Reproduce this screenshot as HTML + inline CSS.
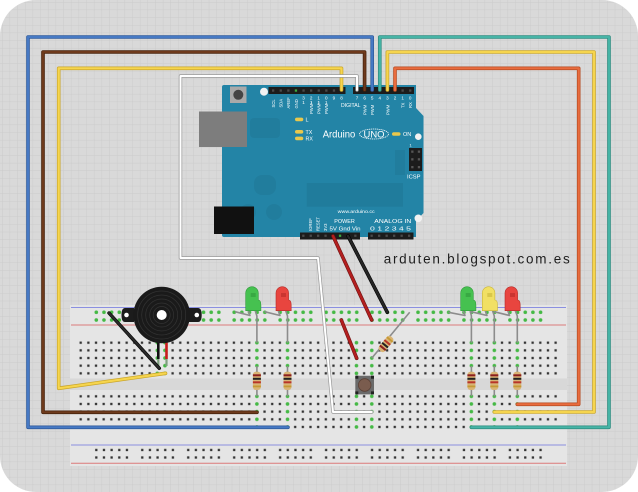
<!DOCTYPE html>
<html><head><meta charset="utf-8"><style>
html,body{margin:0;padding:0;background:#fff;}
svg{display:block;}
text{font-family:"Liberation Sans",sans-serif;}
</style></head><body>
<svg width="638" height="492" viewBox="0 0 638 492" xmlns="http://www.w3.org/2000/svg">
<defs>
<pattern id="grid" width="7.66" height="7.66" patternUnits="userSpaceOnUse" x="2" y="2">
 <rect width="7.66" height="7.66" fill="#d9d9d9"/>
 <path d="M0 0H7.66M0 0V7.66" stroke="#c8c8c8" stroke-width="0.7" fill="none"/>
</pattern>
<pattern id="hole" width="7.66" height="7.66" patternUnits="userSpaceOnUse" x="76.87" y="338.87">
 <rect x="2.68" y="2.68" width="2.3" height="2.3" fill="#333"/>
</pattern>
<pattern id="ghole" width="7.66" height="7.66" patternUnits="userSpaceOnUse" x="76.87" y="338.87">
 <rect width="7.66" height="7.66" fill="#e5e5e5"/>
 <circle cx="3.83" cy="3.83" r="1.8" fill="#45b945"/>
</pattern>
<pattern id="railG" width="45.96" height="20" patternUnits="userSpaceOnUse" x="92.47" y="308.45">
 <circle cx="3.83" cy="3.85" r="1.8" fill="#45b945"/><circle cx="11.49" cy="3.85" r="1.8" fill="#45b945"/><circle cx="19.15" cy="3.85" r="1.8" fill="#45b945"/><circle cx="26.81" cy="3.85" r="1.8" fill="#45b945"/><circle cx="34.47" cy="3.85" r="1.8" fill="#45b945"/>
 <circle cx="3.83" cy="11.55" r="1.8" fill="#45b945"/><circle cx="11.49" cy="11.55" r="1.8" fill="#45b945"/><circle cx="19.15" cy="11.55" r="1.8" fill="#45b945"/><circle cx="26.81" cy="11.55" r="1.8" fill="#45b945"/><circle cx="34.47" cy="11.55" r="1.8" fill="#45b945"/>
</pattern>
<pattern id="railB" width="45.96" height="20" patternUnits="userSpaceOnUse" x="92.47" y="446.15">
 <rect x="2.68" y="2.7" width="2.3" height="2.3" fill="#333"/><rect x="10.34" y="2.7" width="2.3" height="2.3" fill="#333"/><rect x="18" y="2.7" width="2.3" height="2.3" fill="#333"/><rect x="25.66" y="2.7" width="2.3" height="2.3" fill="#333"/><rect x="33.32" y="2.7" width="2.3" height="2.3" fill="#333"/>
 <rect x="2.68" y="10.2" width="2.3" height="2.3" fill="#333"/><rect x="10.34" y="10.2" width="2.3" height="2.3" fill="#333"/><rect x="18" y="10.2" width="2.3" height="2.3" fill="#333"/><rect x="25.66" y="10.2" width="2.3" height="2.3" fill="#333"/><rect x="33.32" y="10.2" width="2.3" height="2.3" fill="#333"/>
</pattern>
</defs>

<!-- background -->
<rect x="0" y="0" width="638" height="492" fill="#fff"/>
<rect x="0" y="0" width="638" height="492" rx="36" ry="36" fill="url(#grid)"/>

<!-- ARDUINO -->
<path d="M224,85 H416 V108 L423.5,116 V213 L416,221 V237 H224 Q222,237 222,235 V87 Q222,85 224,85Z" fill="#2384a6"/>
<rect x="306.7" y="183" width="96.3" height="23.7" fill="#000" opacity="0.06"/>
<rect x="250" y="118" width="30" height="20" rx="4" fill="#000" opacity="0.05"/>
<rect x="254" y="175" width="22" height="20" rx="8" fill="#000" opacity="0.05"/>
<circle cx="248" cy="212" r="8" fill="#000" opacity="0.05"/>
<circle cx="274" cy="212" r="8" fill="#000" opacity="0.05"/>
<rect x="395" y="150" width="10" height="25" fill="#000" opacity="0.05"/>
<rect x="199" y="111.5" width="48" height="35.5" fill="#7d7d7d"/>
<rect x="214" y="206.5" width="40" height="27.5" fill="#111"/>
<rect x="230" y="86.5" width="16.5" height="16.5" fill="#a9a9a9"/>
<circle cx="238.3" cy="94.8" r="5" fill="#444"/>
<circle cx="264" cy="91.7" r="4" fill="#f2f2f2"/>
<circle cx="418.3" cy="136.7" r="3.3" fill="#f2f2f2"/>
<circle cx="418.3" cy="218.3" r="3.8" fill="#f2f2f2"/>

<!-- top headers -->
<rect x="268.5" y="87" width="77" height="7" fill="#1c1c1c"/>
<rect x="353" y="87" width="61" height="7" fill="#1c1c1c"/>
<g fill="#4a4a4a">
<rect x="272" y="89.4" width="2.3" height="2.3"/><rect x="279.6" y="89.4" width="2.3" height="2.3"/><rect x="287.2" y="89.4" width="2.3" height="2.3"/><rect x="302.4" y="89.4" width="2.3" height="2.3"/><rect x="310" y="89.4" width="2.3" height="2.3"/><rect x="317.6" y="89.4" width="2.3" height="2.3"/><rect x="325.2" y="89.4" width="2.3" height="2.3"/><rect x="332.8" y="89.4" width="2.3" height="2.3"/>
<rect x="401.5" y="89.4" width="2.3" height="2.3"/><rect x="409.1" y="89.4" width="2.3" height="2.3"/>
</g>
<rect x="294.8" y="89.4" width="2.3" height="2.3" fill="#3da83d"/>
<!-- bottom headers -->
<rect x="300" y="232.5" width="60" height="7" fill="#1c1c1c"/>
<rect x="368" y="232.5" width="45.5" height="7" fill="#1c1c1c"/>
<g fill="#4a4a4a">
<rect x="302.2" y="234.6" width="2.3" height="2.3"/><rect x="309.6" y="234.6" width="2.3" height="2.3"/><rect x="317" y="234.6" width="2.3" height="2.3"/><rect x="324.4" y="234.6" width="2.3" height="2.3"/><rect x="354.2" y="234.6" width="2.3" height="2.3"/>
<rect x="370.5" y="234.6" width="2.3" height="2.3"/><rect x="378" y="234.6" width="2.3" height="2.3"/><rect x="385.5" y="234.6" width="2.3" height="2.3"/><rect x="393" y="234.6" width="2.3" height="2.3"/><rect x="400.5" y="234.6" width="2.3" height="2.3"/><rect x="408" y="234.6" width="2.3" height="2.3"/>
</g>
<rect x="338.9" y="234.6" width="2.3" height="2.3" fill="#3da83d"/>
<!-- ICSP -->
<rect x="409" y="148" width="13" height="23" fill="#1c1c1c"/>
<g fill="#555"><rect x="411.2" y="150.5" width="2.3" height="2.3"/><rect x="417.8" y="150.5" width="2.3" height="2.3"/><rect x="411.2" y="158.2" width="2.3" height="2.3"/><rect x="417.8" y="158.2" width="2.3" height="2.3"/><rect x="411.2" y="166" width="2.3" height="2.3"/><rect x="417.8" y="166" width="2.3" height="2.3"/></g>

<!-- Arduino labels -->
<g fill="#fff">
<text x="322.7" y="137.6" font-size="10" textLength="32.5" lengthAdjust="spacingAndGlyphs">Arduino</text>
<text x="374" y="137.4" font-size="9" text-anchor="middle" textLength="21" lengthAdjust="spacingAndGlyphs">UNO</text>
<text x="403" y="136.2" font-size="5.5">ON</text>
<text x="305.5" y="121.6" font-size="5.5">L</text>
<text x="305.5" y="133.8" font-size="5.3">TX</text>
<text x="305.5" y="140.4" font-size="5.3">RX</text>
<text x="341" y="107.2" font-size="5" textLength="19.5" lengthAdjust="spacingAndGlyphs">DIGITAL</text>
<text x="407" y="178.6" font-size="5.3" textLength="13.5" lengthAdjust="spacingAndGlyphs">ICSP</text>
<text x="409.5" y="146.5" font-size="4">1</text>
<text x="337.7" y="212.8" font-size="4.8" textLength="37" lengthAdjust="spacingAndGlyphs">www.arduino.cc</text>
<text x="334.3" y="223" font-size="5.8" textLength="20.5" lengthAdjust="spacingAndGlyphs">POWER</text>
<text x="374.3" y="223" font-size="5.8" textLength="37" lengthAdjust="spacingAndGlyphs">ANALOG IN</text>
<text x="329.5" y="230.3" font-size="5.8" textLength="31" lengthAdjust="spacingAndGlyphs">5V Gnd Vin</text>
<text x="370" y="230.3" font-size="5.8" textLength="41" lengthAdjust="spacingAndGlyphs">0 1 2 3 4 5</text>
<g font-size="4.6" text-anchor="middle">
<text x="303.5" y="99.6">3</text><text x="311.1" y="99.6">2</text><text x="318.7" y="99.6">1</text><text x="326.3" y="99.6">0</text><text x="333.9" y="99.6">9</text><text x="341.5" y="99.6">8</text>
<text x="303.5" y="104.2">1</text><text x="311.1" y="104.2">1</text><text x="318.7" y="104.2">1</text><text x="326.3" y="104.2">1</text>
<text x="357" y="99.6">7</text><text x="364.6" y="99.6">6</text><text x="372.2" y="99.6">5</text><text x="379.8" y="99.6">4</text><text x="387.4" y="99.6">3</text><text x="395" y="99.6">2</text><text x="402.6" y="99.6">1</text><text x="410.2" y="99.6">0</text>
</g>
<g font-size="4.2">
<text transform="translate(275,107.5) rotate(-90)">SCL</text>
<text transform="translate(282.6,107.5) rotate(-90)">SDA</text>
<text transform="translate(290.2,108.5) rotate(-90)">AREF</text>
<text transform="translate(297.8,108.5) rotate(-90)">GND</text>
<text transform="translate(313,114) rotate(-90)">PWM~</text>
<text transform="translate(320.6,114) rotate(-90)">PWM~</text>
<text transform="translate(328.2,114) rotate(-90)">PWM</text>
<text transform="translate(366.5,115) rotate(-90)">PWM</text>
<text transform="translate(374.1,115) rotate(-90)">PWM</text>
<text transform="translate(389.3,115) rotate(-90)">PWM</text>
<text transform="translate(404.5,108) rotate(-90)">TX</text>
<text transform="translate(412.1,108) rotate(-90)">RX</text>
<text transform="translate(312,231) rotate(-90)">IOREF</text>
<text transform="translate(319.6,231) rotate(-90)">RESET</text>
<text transform="translate(327.2,231) rotate(-90)">3V3</text>
</g>
</g>
<ellipse cx="374" cy="134" rx="14.5" ry="5" fill="none" stroke="#fff" stroke-width="0.8" stroke-dasharray="1.2,0.7"/>
<g fill="#e9c84c">
<rect x="392" y="132.2" width="8.5" height="3.6" rx="1.8"/>
<rect x="295" y="117.6" width="8.3" height="3.6" rx="1.8"/>
<rect x="295" y="130" width="8.3" height="3.6" rx="1.8"/>
<rect x="295" y="136.6" width="8.3" height="3.6" rx="1.8"/>
</g>

<!-- BREADBOARD -->
<rect x="70" y="305" width="497" height="161" fill="#e5e5e5"/>
<rect x="70" y="378.5" width="497" height="11.5" fill="#d8d8d8"/>
<line x1="71" y1="307.5" x2="566" y2="307.5" stroke="#8a8fe0" stroke-width="1"/>
<line x1="71" y1="325" x2="566" y2="325" stroke="#dc7a7a" stroke-width="1"/>
<line x1="71" y1="445" x2="566" y2="445" stroke="#8a8fe0" stroke-width="1"/>
<line x1="71" y1="463.3" x2="566" y2="463.3" stroke="#dc7a7a" stroke-width="1"/>
<rect x="76.87" y="338.87" width="482.58" height="38.3" fill="url(#hole)"/>
<rect x="76.87" y="392.49" width="482.58" height="38.3" fill="url(#hole)"/>
<rect x="92.47" y="308.45" width="459.6" height="15.4" fill="url(#railG)"/>
<rect x="92.47" y="446.15" width="459.6" height="15" fill="url(#railB)"/>
<!-- green columns -->
<g fill="url(#ghole)">
<rect x="153.47" y="338.87" width="7.66" height="38.3"/>
<rect x="161.13" y="338.87" width="7.66" height="38.3"/>
<rect x="253.05" y="338.87" width="7.66" height="38.3"/><rect x="253.05" y="392.49" width="7.66" height="38.3"/>
<rect x="283.69" y="338.87" width="7.66" height="38.3"/><rect x="283.69" y="392.49" width="7.66" height="38.3"/>
<rect x="352.63" y="338.87" width="7.66" height="38.3"/><rect x="352.63" y="392.49" width="7.66" height="38.3"/>
<rect x="367.95" y="338.87" width="7.66" height="38.3"/><rect x="367.95" y="392.49" width="7.66" height="38.3"/>
<rect x="467.53" y="338.87" width="7.66" height="38.3"/><rect x="467.53" y="392.49" width="7.66" height="38.3"/>
<rect x="490.51" y="338.87" width="7.66" height="38.3"/><rect x="490.51" y="392.49" width="7.66" height="38.3"/>
<rect x="513.49" y="338.87" width="7.66" height="38.3"/><rect x="513.49" y="392.49" width="7.66" height="38.3"/>
</g>

<!-- resistors (vertical) -->
<g stroke="#8c8c8c" stroke-width="1.6" fill="none">
<line x1="256.9" y1="366" x2="256.9" y2="396.3"/>
<line x1="287.5" y1="366" x2="287.5" y2="396.3"/>
<line x1="471.4" y1="366" x2="471.4" y2="396.3"/>
<line x1="494.3" y1="366" x2="494.3" y2="396.3"/>
<line x1="517.3" y1="366" x2="517.3" y2="396.3"/>
</g>
<g id="res">
<g transform="translate(256.9,0)"><rect x="-4" y="371.7" width="8" height="18.3" rx="3" fill="#d9b475"/><rect x="-4" y="374.3" width="8" height="2" fill="#8c1f1f"/><rect x="-4" y="377.8" width="8" height="2" fill="#222"/><rect x="-4" y="381.3" width="8" height="2" fill="#b8352a"/><rect x="-4" y="385.5" width="8" height="1.8" fill="#c59a35"/></g>
<g transform="translate(287.5,0)"><rect x="-4" y="371.7" width="8" height="18.3" rx="3" fill="#d9b475"/><rect x="-4" y="374.3" width="8" height="2" fill="#8c1f1f"/><rect x="-4" y="377.8" width="8" height="2" fill="#222"/><rect x="-4" y="381.3" width="8" height="2" fill="#b8352a"/><rect x="-4" y="385.5" width="8" height="1.8" fill="#c59a35"/></g>
<g transform="translate(471.4,0)"><rect x="-4" y="371.7" width="8" height="18.3" rx="3" fill="#d9b475"/><rect x="-4" y="374.3" width="8" height="2" fill="#8c1f1f"/><rect x="-4" y="377.8" width="8" height="2" fill="#222"/><rect x="-4" y="381.3" width="8" height="2" fill="#b8352a"/><rect x="-4" y="385.5" width="8" height="1.8" fill="#c59a35"/></g>
<g transform="translate(494.3,0)"><rect x="-4" y="371.7" width="8" height="18.3" rx="3" fill="#d9b475"/><rect x="-4" y="374.3" width="8" height="2" fill="#8c1f1f"/><rect x="-4" y="377.8" width="8" height="2" fill="#222"/><rect x="-4" y="381.3" width="8" height="2" fill="#b8352a"/><rect x="-4" y="385.5" width="8" height="1.8" fill="#c59a35"/></g>
<g transform="translate(517.3,0)"><rect x="-4" y="371.7" width="8" height="18.3" rx="3" fill="#d9b475"/><rect x="-4" y="374.3" width="8" height="2" fill="#8c1f1f"/><rect x="-4" y="377.8" width="8" height="2" fill="#222"/><rect x="-4" y="381.3" width="8" height="2" fill="#b8352a"/><rect x="-4" y="385.5" width="8" height="1.8" fill="#c59a35"/></g>
</g>

<!-- diagonal resistor -->
<line x1="409.7" y1="312.3" x2="371.7" y2="358.3" stroke="#8c8c8c" stroke-width="1.6"/>
<g transform="translate(386,344) rotate(-50.4)">
<rect x="-9" y="-3.8" width="18" height="7.6" rx="3" fill="#d9b475"/>
<rect x="-6" y="-3.8" width="2" height="7.6" fill="#8c1f1f"/>
<rect x="-2.5" y="-3.8" width="2" height="7.6" fill="#222"/>
<rect x="1" y="-3.8" width="2" height="7.6" fill="#b8352a"/>
<rect x="5" y="-3.8" width="1.8" height="7.6" fill="#c59a35"/>
</g>

<!-- pushbutton -->
<rect x="355.3" y="375.7" width="18.7" height="18.7" rx="1" fill="#6a6a6a"/>
<g fill="#222"><rect x="355.3" y="375.7" width="3" height="3"/><rect x="371" y="375.7" width="3" height="3"/><rect x="355.3" y="391.4" width="3" height="3"/><rect x="371" y="391.4" width="3" height="3"/></g>
<circle cx="364.7" cy="385" r="6.3" fill="#7a5c4e" stroke="#5a4036" stroke-width="0.8"/>

<!-- LED legs -->
<g stroke="#8c8c8c" stroke-width="1.6" fill="none" stroke-linejoin="round">
<path d="M248,310 L250,315.5 L235,311.7"/><path d="M255,310 L256.9,316 V342.7"/>
<path d="M278,310 L280,315.5 L264.5,311.7"/><path d="M285.5,310 L287.5,316 V342.7"/>
<path d="M463,310 L465,315.5 L448.4,312.3"/><path d="M470,310 L471.4,316 V342.7"/>
<path d="M485,310 L487,315.5 L471,311.7"/><path d="M492.3,310 L494.3,316 V342.7"/>
<path d="M507.5,310 L509.5,315.5 L494,311.7"/><path d="M515,310 L517.3,316 V342.7"/>
</g>
<!-- LEDs -->
<g transform="translate(245.7,0)"><path d="M0,310.7 V293 A6.3,6.3 0 0 1 12.6,293 V300 Q15.2,300 15.2,305 V310.7 Z" fill="#46c150" stroke="#2f9a3a" stroke-width="0.6"/><rect x="5" y="293" width="5" height="4" fill="#2f9a3a" opacity="0.6"/></g>
<g transform="translate(276,0)"><path d="M0,310.7 V293 A6.3,6.3 0 0 1 12.6,293 V300 Q15.2,300 15.2,305 V310.7 Z" fill="#e8453f" stroke="#b52c28" stroke-width="0.6"/><rect x="5" y="293" width="5" height="4" fill="#b52c28" opacity="0.6"/></g>
<g transform="translate(460.7,0)"><path d="M0,310.7 V293 A6.3,6.3 0 0 1 12.6,293 V300 Q15.2,300 15.2,305 V310.7 Z" fill="#46c150" stroke="#2f9a3a" stroke-width="0.6"/><rect x="5" y="293" width="5" height="4" fill="#2f9a3a" opacity="0.6"/></g>
<g transform="translate(482.3,0)"><path d="M0,310.7 V293 A6.3,6.3 0 0 1 12.6,293 V300 Q15.2,300 15.2,305 V310.7 Z" fill="#f1e064" stroke="#c9b53a" stroke-width="0.6"/><rect x="5" y="293" width="5" height="4" fill="#c9b53a" opacity="0.6"/></g>
<g transform="translate(505,0)"><path d="M0,310.7 V293 A6.3,6.3 0 0 1 12.6,293 V300 Q15.2,300 15.2,305 V310.7 Z" fill="#e8453f" stroke="#b52c28" stroke-width="0.6"/><rect x="5" y="293" width="5" height="4" fill="#b52c28" opacity="0.6"/></g>

<!-- buzzer -->
<line x1="158.3" y1="340" x2="158.3" y2="359" stroke="#111" stroke-width="2.6"/>
<line x1="166.5" y1="340" x2="166.5" y2="359" stroke="#c91b1b" stroke-width="2.6"/>
<line x1="158.3" y1="359" x2="158.3" y2="366" stroke="#7fa07f" stroke-width="2.2"/>
<line x1="166.5" y1="359" x2="166.5" y2="366" stroke="#7fa07f" stroke-width="2.2"/>
<path d="M134,308 H125 Q121.5,308 121.5,315 Q121.5,322 125,322 H134 Z" fill="#1c1c1c"/>
<path d="M189,308 H198 Q201.7,308 201.7,315 Q201.7,322 198,322 H189 Z" fill="#1c1c1c"/>
<circle cx="126.5" cy="315" r="2.3" fill="#fff"/>
<circle cx="196.8" cy="315" r="2.3" fill="#fff"/>
<circle cx="161.7" cy="315" r="28.3" fill="#1a1a1a"/>
<g fill="none" stroke="#333" stroke-width="0.7">
<circle cx="161.7" cy="315" r="24"/><circle cx="161.7" cy="315" r="20"/><circle cx="161.7" cy="315" r="16"/><circle cx="161.7" cy="315" r="12"/><circle cx="161.7" cy="315" r="8.5"/>
</g>
<circle cx="161.7" cy="315" r="5" fill="#fff"/>

<!-- text -->
<text x="383.7" y="263.6" font-size="13.5" fill="#1e1e1e" textLength="186" lengthAdjust="spacing">arduten.blogspot.com.es</text>

<!-- WIRES -->
<g fill="none" stroke-linejoin="round" stroke-linecap="round">
<path d="M109,313 L159.3,368.3" stroke="#000" stroke-width="3.4"/>
<path d="M109,313 L159.3,368.3" stroke="#2a2a2a" stroke-width="2.2"/>
<path d="M333,236 L371.7,320" stroke="#6e1010" stroke-width="3.6"/>
<path d="M333,236 L371.7,320" stroke="#b31f1f" stroke-width="2.4"/>
<path d="M341.3,320 L356.7,358.3" stroke="#6e1010" stroke-width="3.6"/>
<path d="M341.3,320 L356.7,358.3" stroke="#b31f1f" stroke-width="2.4"/>
<path d="M348,236 L387.3,312.3" stroke="#000" stroke-width="3.6"/>
<path d="M348,236 L387.3,312.3" stroke="#262626" stroke-width="2.4"/>

<path d="M372.2,90 V37 H28 V427.3 H288" stroke="#2d5898" stroke-width="3.6"/>
<path d="M372.2,90 V37 H28 V427.3 H288" stroke="#4679c4" stroke-width="2.2"/>
<path d="M364.6,90 V52 H43 V412.3 H257" stroke="#43200b" stroke-width="3.6"/>
<path d="M364.6,90 V52 H43 V412.3 H257" stroke="#6e3a1c" stroke-width="2.2"/>
<path d="M341.5,90 V68.3 H58.7 V388.3 L165.5,373.3" stroke="#c9a52a" stroke-width="3.6"/>
<path d="M341.5,90 V68.3 H58.7 V388.3 L165.5,373.3" stroke="#f6d54e" stroke-width="2.2"/>
<path d="M357,90 V76 H180.5 V258 H318 L333,412 H371.7" stroke="#9a9a9a" stroke-width="3.4"/>
<path d="M357,90 V76 H180.5 V258 H318 L333,412 H371.7" stroke="#ffffff" stroke-width="2"/>
<path d="M379.8,90 V37 H609 V427.3 H471.4" stroke="#2c8a7e" stroke-width="3.6"/>
<path d="M379.8,90 V37 H609 V427.3 H471.4" stroke="#46b4a6" stroke-width="2.2"/>
<path d="M387.4,90 V52 H594 V412 H494.3" stroke="#c9a52a" stroke-width="3.6"/>
<path d="M387.4,90 V52 H594 V412 H494.3" stroke="#f6d54e" stroke-width="2.2"/>
<path d="M395,90 V68.3 H578.7 V404.3 H517.3" stroke="#b44b22" stroke-width="3.6"/>
<path d="M395,90 V68.3 H578.7 V404.3 H517.3" stroke="#e96c3e" stroke-width="2.2"/>
</g>
</svg>
</body></html>
